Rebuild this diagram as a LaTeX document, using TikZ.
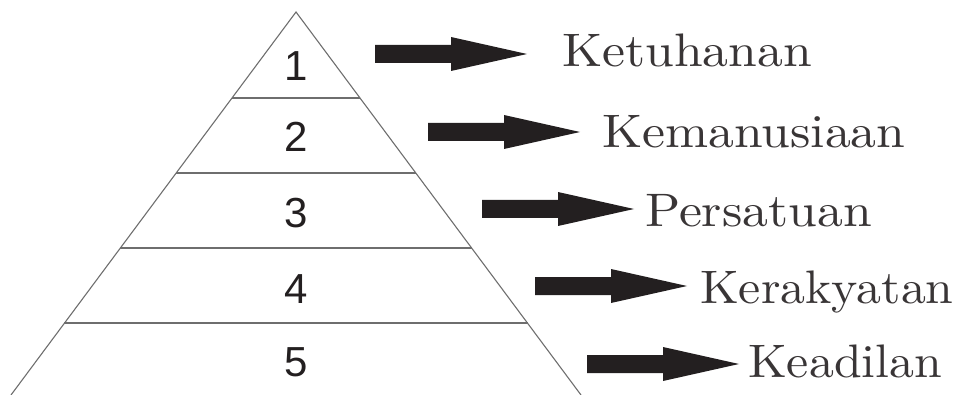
\documentclass[tikz,border=0pt]{standalone}
\usepackage{fontspec}
\newfontfamily\numfont{Liberation Sans}
\newfontfamily\lblfont{lmroman10-regular.otf}
\definecolor{ink}{HTML}{231F20}
\definecolor{rule}{HTML}{6E6E6E}
\begin{document}
\begin{tikzpicture}[x=1pt,y=-1pt,
  side/.style={draw=rule,line width=1.1pt},
  tier/.style={draw=rule,line width=1.4pt},
  num/.style={font=\numfont\fontsize{42}{42}\selectfont,text=ink,inner sep=0pt},
  lbl/.style={font=\lblfont\fontsize{47}{47}\selectfont,text=ink!90,inner sep=0pt,anchor=base west},
  fatarrow/.style={fill=ink}]
\useasboundingbox (0,0) rectangle (963,395);
% triangle
\coordinate (apex) at (296,12);
\coordinate (bl) at (11,395);
\coordinate (br) at (581,395);
\draw[side] (bl) -- (apex) -- (br);
% tiers
\foreach \y/\h in {98/64,173/120,248/176,323/232}{
  \draw[tier] (296-\h,\y) -- (296+\h,\y);
}
% numbers
\node[num] (n1) at (296,66) {1};
\node[num] (n2) at (296,137) {2};
\node[num] (n3) at (296,213) {3};
\node[num] (n4) at (296,289) {4};
\node[num] (n5) at (296,362) {5};
% arrows
\foreach \x/\c in {375/54,428/132,482/209,535/286,587/364}{
  \fill[fatarrow] (\x,\c-9) -- (\x+76,\c-9) -- (\x+76,\c-17) -- (\x+152,\c)
     -- (\x+76,\c+17) -- (\x+76,\c+9) -- (\x,\c+9) -- cycle;
}
% labels
\node[lbl] (l1) at (562,67) {\scalebox{1.1}[1]{Ketuhanan}};
\node[lbl] (l2) at (602,148) {\scalebox{1.1}[1]{Kemanusiaan}};
\node[lbl] (l3) at (645,227) {\scalebox{1.1}[1]{Persatuan}};
\node[lbl] (l4) at (700,303) {\scalebox{1.06}[1]{Kerakyatan}};
\node[lbl] (l5) at (748,377) {\scalebox{1.06}[1]{Keadilan}};
\end{tikzpicture}
\end{document}
